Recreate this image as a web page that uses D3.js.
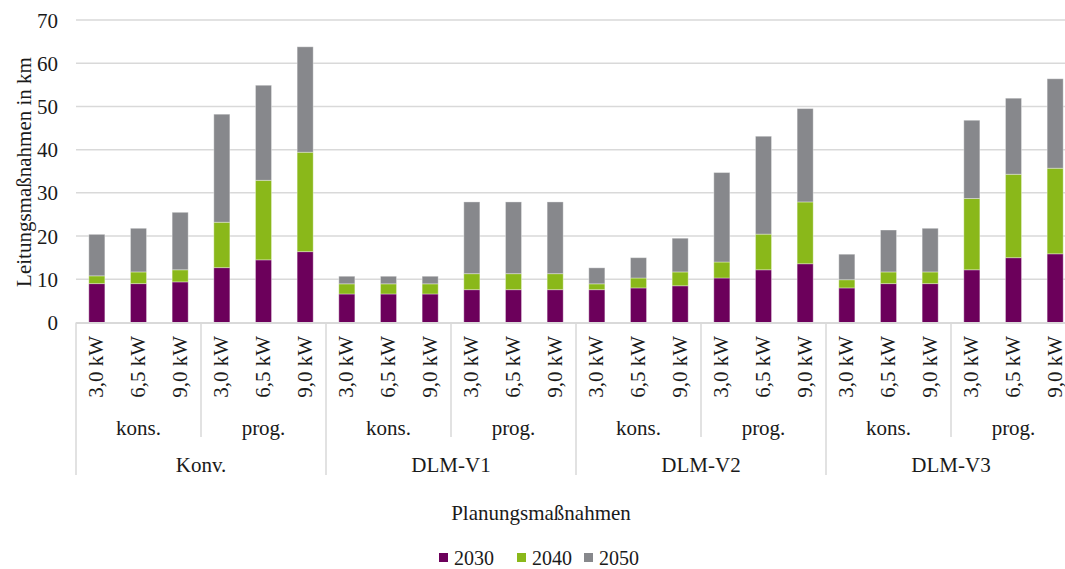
<!DOCTYPE html>
<html>
<head>
<meta charset="utf-8">
<script src="https://cdn.jsdelivr.net/npm/d3@7"></script>
<style>
  html, body { margin: 0; padding: 0; background: #ffffff; overflow: hidden; }
  svg { display: block; }
  text { font-family: "Liberation Serif", "Times New Roman", serif; fill: #1a1a1a; }
</style>
</head>
<body>
<svg id="chart" width="1065" height="569"></svg>
<script>
// ---- data ----
const groups = ["Konv.", "DLM-V1", "DLM-V2", "DLM-V3"];
const scenarios = ["kons.", "prog."];
const powers = ["3,0 kW", "6,5 kW", "9,0 kW"];
const seriesNames = ["2030", "2040", "2050"];
const seriesColors = ["#6c005b", "#8ab81a", "#87888c"];
const yTicks = [0, 10, 20, 30, 40, 50, 60, 70];

const v2030 = [9.0, 9.0, 9.4, 12.7, 14.5, 16.4,
               6.6, 6.6, 6.6, 7.6, 7.6, 7.6,
               7.6, 8.0, 8.5, 10.3, 12.2, 13.6,
               8.0, 9.0, 9.0, 12.2, 15.0, 15.9];
const v2040 = [1.8, 2.7, 2.8, 10.5, 18.4, 23.0,
               2.35, 2.35, 2.35, 3.7, 3.7, 3.7,
               1.35, 2.3, 3.2, 3.7, 8.25, 14.3,
               1.9, 2.7, 2.7, 16.5, 19.3, 19.8];
const v2050 = [9.6, 10.1, 13.3, 25.0, 22.0, 24.4,
               1.75, 1.75, 1.75, 16.6, 16.6, 16.6,
               3.7, 4.7, 7.8, 20.7, 22.65, 21.6,
               5.9, 9.7, 10.1, 18.1, 17.6, 20.7];

// ---- build table ----
const rows = [];
groups.forEach((g, gi) => scenarios.forEach((s, si) => powers.forEach((p, pi) => {
  const i = rows.length;
  rows.push({ id: i, group: g, scen: s, power: p, "2030": v2030[i], "2040": v2040[i], "2050": v2050[i] });
})));

const svg = d3.select("#chart");
const FS = 21;
const plotLeft = 76, plotRight = 1076, plotTop = 20, plotBottom = 322.5;

const x = d3.scaleBand().domain(rows.map(r => r.id)).range([plotLeft, plotRight])
  .paddingInner(0.615).paddingOuter(0.3075);
const y = d3.scaleLinear().domain([0, 70]).range([plotBottom, plotTop]);

// gridlines
svg.append("g").selectAll("line").data(yTicks.filter(t => t > 0)).join("line")
  .attr("x1", plotLeft).attr("x2", plotRight)
  .attr("y1", d => y(d)).attr("y2", d => y(d))
  .attr("stroke", "#d9d9d9").attr("stroke-width", 1.5);

// y axis labels via d3 axis
const yAxis = svg.append("g").attr("transform", `translate(${plotLeft - 18},0)`)
  .call(d3.axisLeft(y).tickValues(yTicks).tickSize(0).tickPadding(0).tickFormat(d3.format("d")));
yAxis.select(".domain").remove();
yAxis.selectAll("text").attr("font-size", FS).attr("font-family", '"Liberation Serif", serif')
  .attr("fill", "#1a1a1a").attr("dy", "0.34em").attr("x", 0).attr("text-anchor", "end");

// stacked bars
const stack = d3.stack().keys(seriesNames);
const stacked = stack(rows);
svg.append("g").selectAll("g").data(stacked).join("g")
  .attr("fill", (d, i) => seriesColors[i])
  .selectAll("rect").data(d => d).join("rect")
  .attr("x", d => x(d.data.id))
  .attr("width", x.bandwidth())
  .attr("y", d => y(d[1]))
  .attr("height", d => y(d[0]) - y(d[1]))
  .attr("stroke", "#ffffff").attr("stroke-opacity", 0.35).attr("stroke-width", 1);

// x axis baseline
svg.append("line").attr("x1", plotLeft).attr("x2", plotRight)
  .attr("y1", plotBottom + 0.5).attr("y2", plotBottom + 0.5)
  .attr("stroke", "#d9d9d9").attr("stroke-width", 2);

// power labels (rotated)
svg.append("g").selectAll("text").data(rows).join("text")
  .attr("transform", d => `translate(${x(d.id) + x.bandwidth() / 2 - 1},336) rotate(-90)`)
  .attr("text-anchor", "end").attr("dy", "0.35em").attr("font-size", FS)
  .text(d => d.power);

const step = x.step();
// scenario labels and separators
const scenRows = [];
groups.forEach((g, gi) => scenarios.forEach((s, si) => {
  scenRows.push({ label: s, start: x(rows.find(r => r.group === g && r.scen === s).id) - x.paddingOuter() * step, gi, si });
}));
svg.append("g").selectAll("text").data(scenRows).join("text")
  .attr("x", d => d.start + step * powers.length / 2)
  .attr("y", 428).attr("dy", "0.35em").attr("text-anchor", "middle").attr("font-size", FS)
  .text(d => d.label);
svg.append("g").selectAll("line").data(scenRows.filter(d => d.si > 0)).join("line")
  .attr("x1", d => d.start).attr("x2", d => d.start)
  .attr("y1", plotBottom).attr("y2", 437)
  .attr("stroke", "#d9d9d9").attr("stroke-width", 1.5);

// group labels and separators
const groupRows = groups.map((g, gi) => ({ label: g, start: plotLeft + gi * step * scenarios.length * powers.length }));
svg.append("g").selectAll("text").data(groupRows).join("text")
  .attr("x", d => d.start + step * scenarios.length * powers.length / 2)
  .attr("y", 465).attr("dy", "0.35em").attr("text-anchor", "middle").attr("font-size", FS)
  .text(d => d.label);
svg.append("g").selectAll("line").data(groupRows.concat([{ start: plotRight }])).join("line")
  .attr("x1", d => d.start).attr("x2", d => d.start)
  .attr("y1", plotBottom).attr("y2", 475)
  .attr("stroke", "#d9d9d9").attr("stroke-width", 1.5);

// axis titles
svg.append("text").attr("transform", "translate(31,172) rotate(-90)")
  .attr("text-anchor", "middle").attr("font-size", FS).text("Leitungsmaßnahmen in km");
svg.append("text").attr("x", 541).attr("y", 520).attr("text-anchor", "middle")
  .attr("font-size", FS).text("Planungsmaßnahmen");

// legend
const legendX = [439, 517, 584];
const lg = svg.append("g").selectAll("g").data(seriesNames).join("g")
  .attr("transform", (d, i) => `translate(${legendX[i]},553)`);
lg.append("rect").attr("width", 9).attr("height", 9).attr("fill", (d, i) => seriesColors[i]);
lg.append("text").attr("x", 15).attr("y", 12).attr("font-size", 20).text(d => d);
</script>
</body>
</html>
